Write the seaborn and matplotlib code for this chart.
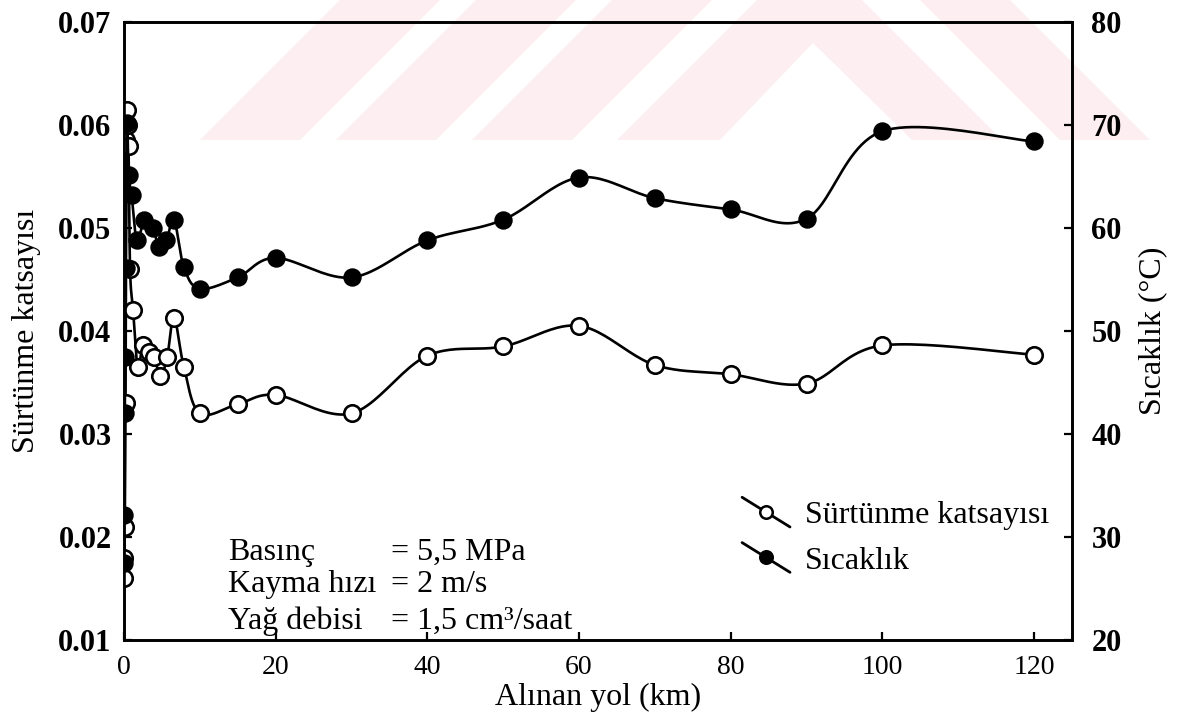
import numpy as np
import matplotlib
matplotlib.use("Agg")
import matplotlib.pyplot as plt
import seaborn as sns
from matplotlib.lines import Line2D
from matplotlib.patches import Polygon
from matplotlib.legend_handler import HandlerBase

# Sliding distance (km) and measured friction coefficient
distance_friction = [0.0, 0.05, 0.1, 0.2, 0.3, 0.4, 0.5, 0.6, 0.8, 1.2, 1.8, 2.5, 3.3,
                     4.0, 4.8, 5.7, 6.6, 7.9, 10, 15, 20, 30, 40, 50, 60, 70, 80, 90, 100, 120]
friction = [0.016, 0.018, 0.021, 0.033, 0.0585, 0.0615, 0.060, 0.058, 0.046, 0.042, 0.0365,
            0.0386, 0.038, 0.0375, 0.0356, 0.0375, 0.0413, 0.0365, 0.032, 0.0329, 0.0338,
            0.032, 0.0376, 0.0385, 0.0405, 0.0367, 0.0358, 0.0349, 0.0386, 0.0377]

# Sliding distance (km) and measured temperature (°C)
distance_temp = [0.0, 0.05, 0.1, 0.15, 0.2, 0.4, 0.6, 1.0, 1.7, 2.7, 3.8, 4.6, 5.6, 6.6,
                 7.9, 10, 15, 20, 30, 40, 50, 60, 70, 80, 90, 100, 120]
temperature = [27.5, 32.1, 42.0, 47.5, 56.1, 70.2, 65.1, 63.2, 58.8, 60.8, 60.0, 58.2, 58.8,
               60.8, 56.2, 54.1, 55.2, 57.1, 55.2, 58.8, 60.8, 64.9, 62.9, 61.8, 60.9, 69.4, 68.4]

x_ticks = [0, 20, 40, 60, 80, 100, 120]
friction_ticks = [0.01, 0.02, 0.03, 0.04, 0.05, 0.06, 0.07]
temp_ticks = [20, 30, 40, 50, 60, 70, 80]
conditions = [("Basınç", "= 5,5 MPa"),
              ("Kayma hızı", "= 2 m/s"),
              ("Yağ debisi", "= 1,5 cm³/saat")]

X_LIM = (0, 125)
F_LIM = (0.01, 0.07)
T_LIM = (20, 80)
FIG_W, FIG_H = 1178.0, 715.0
AX_W, AX_H = 948.0, 618.0   # axes size in pixels

# pale striped emblem across the top of the page (pixel outlines, y measured downward)
emblem_shapes = [
    [(200, 140), (300, 140), (440, 0), (340, 0)],
    [(336, 140), (436, 140), (576, 0), (476, 0)],
    [(472, 140), (572, 140), (712, 0), (612, 0)],
    [(617, 140), (720, 140), (813, 43), (912, 140), (1002, 140), (862, 0), (757, 0)],
    [(920, 0), (1010, 0), (1150, 140), (1060, 140)],
]


def smooth_curve(x, y, xspan, yspan, n=25):
    """Bezier smoothing through the points (spreadsheet style), done in screen proportions."""
    sx, sy = AX_W / xspan, AX_H / yspan
    P = np.column_stack([np.asarray(x, float) * sx, np.asarray(y, float) * sy])
    ext = np.vstack([P[0], P, P[-1]])
    t = np.linspace(0, 1, n)[:, None]
    parts = []
    for i in range(len(P) - 1):
        p0, p1, p2, p3 = ext[i], ext[i + 1], ext[i + 2], ext[i + 3]
        c1 = p1 + (p2 - p0) / 6.0
        c2 = p2 - (p3 - p1) / 6.0
        seg = (1 - t) ** 3 * p1 + 3 * (1 - t) ** 2 * t * c1 + 3 * (1 - t) * t ** 2 * c2 + t ** 3 * p2
        parts.append(seg if i == 0 else seg[1:])
    arr = np.vstack(parts)
    return arr[:, 0] / sx, arr[:, 1] / sy


class DiagonalHandler(HandlerBase):
    def create_artists(self, legend, orig_handle, xdescent, ydescent, width, height, fontsize, trans):
        cy = height / 2 - ydescent
        dy = 0.31 * width
        line = Line2D([-xdescent, width - xdescent], [cy + dy, cy - dy], color="black", lw=2.0)
        mark = Line2D([width / 2 - xdescent], [cy], marker="o", markersize=9,
                      markerfacecolor=orig_handle.get_markerfacecolor(),
                      markeredgecolor="black", markeredgewidth=1.8, linestyle="none")
        line.set_transform(trans)
        mark.set_transform(trans)
        return [line, mark]


sns.set_theme(style="ticks")
plt.rcParams["font.family"] = ["Liberation Serif", "DejaVu Serif"]
plt.rcParams["text.color"] = "black"
plt.rcParams["axes.labelcolor"] = "black"
plt.rcParams["xtick.color"] = "black"
plt.rcParams["ytick.color"] = "black"

FS = 23

fig = plt.figure(figsize=(FIG_W / 100, FIG_H / 100), dpi=100)
fig.patch.set_facecolor("white")

for shape in emblem_shapes:
    pts = [(px / FIG_W, 1 - py / FIG_H) for px, py in shape]
    fig.add_artist(Polygon(pts, closed=True, transform=fig.transFigure,
                           facecolor="#fdeff1", edgecolor="none", zorder=-5))

ax = fig.add_axes([124 / FIG_W, 1 - 640 / FIG_H, AX_W / FIG_W, AX_H / FIG_H])
ax.patch.set_alpha(0)
ax2 = ax.twinx()
ax2.patch.set_alpha(0)

# friction coefficient: open circles on the left axis
fx, fy = smooth_curve(distance_friction, friction, X_LIM[1] - X_LIM[0], F_LIM[1] - F_LIM[0])
sns.lineplot(x=fx, y=fy, sort=False, estimator=None, ax=ax, color="black", lw=1.9)
sns.scatterplot(x=distance_friction, y=friction, ax=ax, marker="o", s=140,
                color="white", edgecolor="black", linewidth=1.9, zorder=3)

# temperature: filled circles on the right axis
tx, ty = smooth_curve(distance_temp, temperature, X_LIM[1] - X_LIM[0], T_LIM[1] - T_LIM[0])
sns.lineplot(x=tx, y=ty, sort=False, estimator=None, ax=ax2, color="black", lw=1.9)
sns.scatterplot(x=distance_temp, y=temperature, ax=ax2, marker="o", s=150,
                color="black", edgecolor="black", linewidth=1.0, zorder=3)

ax.set_xlim(*X_LIM)
ax.set_ylim(*F_LIM)
ax2.set_ylim(*T_LIM)
ax.set_xticks(x_ticks)
ax.set_xticklabels([str(v) for v in x_ticks], fontsize=20)
ax.set_yticks(friction_ticks)
ax.set_yticklabels([f"{v:.2f}" for v in friction_ticks], fontweight="bold", fontsize=22)
ax2.set_yticks(temp_ticks)
ax2.set_yticklabels([str(v) for v in temp_ticks], fontweight="bold", fontsize=22)

for a in (ax, ax2):
    for s in a.spines.values():
        s.set_linewidth(1.9)
        s.set_color("black")
        s.set_visible(True)
    a.tick_params(direction="in", length=6, width=1.6, colors="black")
ax.tick_params(axis="y", pad=9)
ax2.tick_params(axis="y", pad=14)
ax.tick_params(axis="x", pad=11)

ax.set_xlabel("Alınan yol (km)", fontsize=FS, labelpad=2)
ax.set_ylabel("Sürtünme katsayısı", fontsize=FS, labelpad=12)
ax2.set_ylabel("Sıcaklık (°C)", fontsize=FS, labelpad=12)

for i, (name, val) in enumerate(conditions):
    yy = [0.142, 0.090, 0.030][i]
    ax.text(0.110, yy, name, transform=ax.transAxes, va="center", fontsize=FS)
    ax.text(0.282, yy, val, transform=ax.transAxes, va="center", fontsize=FS)

handles = [Line2D([], [], marker="o", markerfacecolor="white", color="black"),
           Line2D([], [], marker="o", markerfacecolor="black", color="black")]
ax2.legend(handles, ["Sürtünme katsayısı", "Sıcaklık"], loc="upper left",
           bbox_to_anchor=(0.652, 0.225), frameon=False, borderpad=0, borderaxespad=0,
           handlelength=1.5, handletextpad=0.47, labelspacing=0.5, fontsize=FS,
           handler_map={Line2D: DiagonalHandler()})

fig.savefig("out.png", dpi=100)
